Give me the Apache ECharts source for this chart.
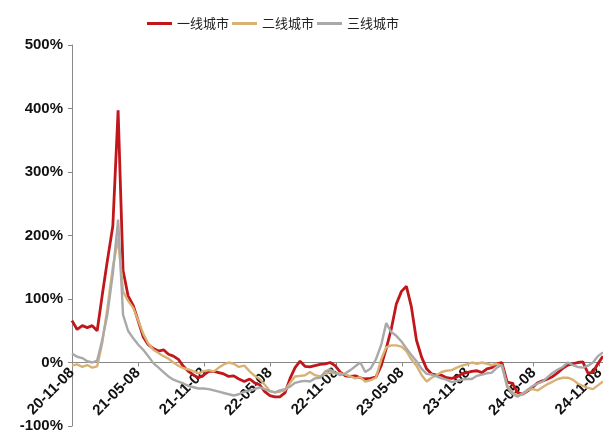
<!DOCTYPE html>
<html>
<head>
<meta charset="utf-8">
<script src="https://cdn.jsdelivr.net/npm/echarts@6/dist/echarts.min.js"></script>
<style>
html,body{margin:0;padding:0;background:#fff;}
#chart{width:603px;height:434px;}
</style>
</head>
<body>
<div id="chart"></div>
<script>
// Series names
var seriesNames = ['一线城市', '二线城市', '三线城市'];
// Bi-weekly observations starting 2020-11-08
var startDate = '2020-11-08';
var stepDays = 14;
// Tick label dates (every 6 months)
var tickLabels = ['20-11-08','21-05-08','21-11-08','22-05-08','22-11-08','23-05-08','23-11-08','24-05-08','24-11-08'];
var yTicks = [-100, 0, 100, 200, 300, 400, 500];

var tier1 = [66,52,58,55,58,50,105,160,215,397,145,105,90,65,40,28,22,18,20,13,10,5,-6,-14,-20,-24,-20,-14,-14,-16,-18,-22,-21,-26,-30,-26,-32,-35,-46,-52,-54,-54,-48,-25,-8,2,-6,-7,-5,-3,-2,0,-5,-15,-21,-22,-21,-24,-26,-25,-23,-5,22,52,92,112,120,88,35,8,-10,-18,-20,-20,-24,-25,-23,-18,-16,-14,-13,-16,-10,-8,-2,0,-31,-33,-47,-50,-45,-39,-32,-29,-26,-22,-16,-9,-4,-2,0,1,-17,-15,-2,10];
var tier2 = [-5,-3,-7,-4,-8,-6,30,85,150,195,112,97,86,66,45,30,20,15,10,6,0,-5,-9,-11,-14,-17,-14,-12,-14,-8,-3,0,-2,-7,-5,-14,-21,-26,-35,-45,-47,-46,-44,-32,-22,-21,-20,-15,-20,-22,-18,-15,-17,-17,-19,-22,-25,-23,-30,-28,-24,5,24,27,27,25,18,5,-5,-20,-30,-24,-20,-15,-13,-12,-8,-5,-3,0,-2,0,-2,-4,-2,-5,-36,-47,-52,-50,-44,-42,-44,-39,-34,-30,-26,-24,-24,-27,-33,-37,-40,-42,-36,-30];
var tier3 = [14,9,7,2,0,3,35,75,140,225,75,50,38,28,20,10,-1,-8,-15,-22,-27,-30,-33,-37,-39,-41,-41,-42,-44,-46,-48,-50,-52,-50,-46,-44,-42,-39,-42,-45,-47,-44,-42,-38,-32,-30,-29,-30,-25,-24,-14,-11,-16,-20,-17,-12,-6,0,-15,-10,5,28,62,48,42,33,22,12,2,-10,-18,-19,-22,-25,-27,-31,-29,-27,-26,-26,-21,-19,-17,-16,-8,-4,-39,-49,-54,-49,-43,-37,-33,-30,-23,-16,-11,-7,0,-4,-7,-8,-5,0,10,16];

var colors = ['#C0161C', '#D8B274', '#A9A9A9'];

function daysInMonth(y, m) { return new Date(Date.UTC(y, m, 0)).getUTCDate(); }
// month index relative to 2020-11-08
function monthIndex(dt) {
  var y = dt.getUTCFullYear(), m = dt.getUTCMonth() + 1, d = dt.getUTCDate();
  return (y - 2020) * 12 + (m - 11) + (d - 8) / daysInMonth(y, m);
}
var start = new Date(startDate + 'T00:00:00Z');
function xAt(i) {
  return monthIndex(new Date(start.getTime() + i * stepDays * 86400000));
}
function toPairs(arr) { return arr.map(function (v, i) { return [xAt(i), v]; }); }

var tickPos = tickLabels.map(function (s, i) { return i * 6; });
var xMax = xAt(tier1.length - 1);

var chart = echarts.init(document.getElementById('chart'), null, {renderer: 'canvas'});
var labelFont = {fontFamily: 'Liberation Sans, Arial, sans-serif', fontWeight: 'bold', fontSize: 15, color: '#111'};

chart.setOption({
  animation: false,
  backgroundColor: '#fff',
  color: colors,
  legend: {
    left: 142, top: 12,
    icon: 'rect', itemWidth: 25, itemHeight: 3, itemGap: 3,
    textStyle: {fontFamily: 'Noto Sans CJK SC', fontSize: 13, color: '#222'},
    data: seriesNames
  },
  grid: {left: 72, right: 0, top: 45, bottom: 8, containLabel: false, outerBoundsMode: 'none'},
  xAxis: {
    type: 'value', min: 0, max: xMax,
    axisLine: {onZero: false, lineStyle: {color: '#888', width: 1}},
    axisTick: {show: true, length: 4, inside: false, customValues: tickPos, lineStyle: {color: '#888'}},
    axisLabel: Object.assign({
      rotate: 45, margin: 8, customValues: tickPos,
      formatter: function (v) { var k = Math.round(v / 6); return tickLabels[k] || ''; }
    }, labelFont),
    splitLine: {show: false}
  },
  yAxis: {
    type: 'value', min: yTicks[0], max: yTicks[yTicks.length - 1], interval: 100,
    axisLine: {show: true, lineStyle: {color: '#888', width: 1}},
    axisTick: {show: true, length: 4, lineStyle: {color: '#888'}},
    axisLabel: Object.assign({margin: 9, formatter: '{value}%'}, labelFont),
    splitLine: {show: false}
  },
  series: [
    {name: seriesNames[0], type: 'line', data: toPairs(tier1), symbol: 'none', lineStyle: {width: 2.8, color: colors[0]}, z: 2},
    {name: seriesNames[1], type: 'line', data: toPairs(tier2), symbol: 'none', lineStyle: {width: 2.4, color: colors[1]}, z: 3},
    {name: seriesNames[2], type: 'line', data: toPairs(tier3), symbol: 'none', lineStyle: {width: 2.4, color: colors[2]}, z: 4}
  ]
});
// Move the x axis (line, ticks, labels) up to the 0% level using the y scale
var zeroPx = chart.convertToPixel({yAxisIndex: 0}, 0);
var minPx = chart.convertToPixel({yAxisIndex: 0}, yTicks[0]);
chart.setOption({xAxis: {offset: zeroPx - minPx}});
</script>
</body>
</html>
